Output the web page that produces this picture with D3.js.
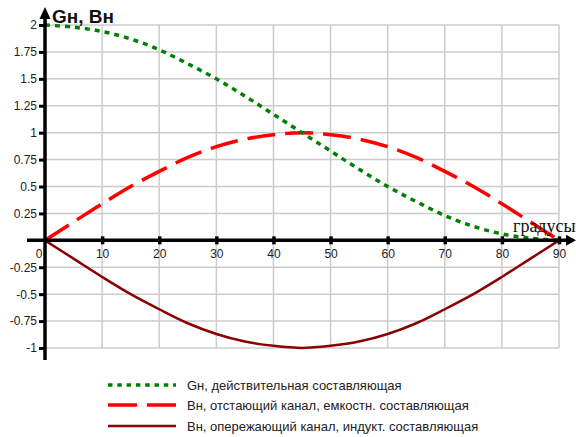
<!DOCTYPE html>
<html><head><meta charset="utf-8">
<script src="https://cdn.jsdelivr.net/npm/d3@7"></script>
<style>body{margin:0;background:#fff}svg{display:block}</style>
</head><body>
<svg id="c" width="576" height="437"></svg>
<script>
const degrees = [0,5,10,15,20,25,30,35,40,45,50,55,60,65,70,75,80,85,90];
const gActive = [2,1.98,1.94,1.87,1.77,1.64,1.5,1.34,1.17,1,0.83,0.66,0.5,0.36,0.23,0.13,0.06,0.02,0];
const bLagging = [0,0.17,0.34,0.5,0.64,0.77,0.87,0.94,0.98,1,0.98,0.94,0.87,0.77,0.64,0.5,0.34,0.17,0];
const bLeading = [0,-0.17,-0.34,-0.5,-0.64,-0.77,-0.87,-0.94,-0.98,-1,-0.98,-0.94,-0.87,-0.77,-0.64,-0.5,-0.34,-0.17,0];
const xTicks = [10,20,30,40,50,60,70,80,90];
const yTicks = [-1,-0.75,-0.5,-0.25,0.25,0.5,0.75,1,1.25,1.5,1.75,2];
const gridX = [10,20,30,40,50,60,70,80,90];
const gridY = [-1,-0.75,-0.5,-0.25,0.25,0.5,0.75,1,1.25,1.5,1.75,2];
const legendLabels = ["Gн, действительная составляющая","Вн, отстающий канал, емкостн. составляющая","Вн, опережающий канал, индукт. составляющая"];
const axisTitle = "Gн, Вн";
const xTitle = "градусы";

const svg = d3.select("#c");
const font = "Arial, 'Liberation Sans', sans-serif";
const x = d3.scaleLinear().domain([0,90]).range([45,559]);
const y = d3.scaleLinear().domain([-1,2]).range([348,25]);

// grid
const g = svg.append("g");
g.selectAll(".gx").data(gridX).enter().append("line")
  .attr("x1",d=>x(d)).attr("x2",d=>x(d)).attr("y1",y(2)).attr("y2",y(-1))
  .attr("stroke","#cccccc").attr("stroke-width",1.5);
g.selectAll(".gy").data(gridY).enter().append("line")
  .attr("x1",x(0)).attr("x2",x(90)).attr("y1",d=>y(d)).attr("y2",d=>y(d))
  .attr("stroke","#cccccc").attr("stroke-width",1.5);

// curves
const line = (vals)=>d3.line().x((d,i)=>x(degrees[i])).y(d=>y(d)).curve(d3.curveCatmullRom)(vals);
svg.append("path").attr("d",line(bLeading)).attr("fill","none").attr("stroke","#8b0000").attr("stroke-width",2.5);
svg.append("path").attr("d",line(bLagging)).attr("fill","none").attr("stroke","#ff0000").attr("stroke-width",3.5).attr("stroke-dasharray","28,10");
svg.append("path").attr("d",line(gActive)).attr("fill","none").attr("stroke","#008000").attr("stroke-width",3.5).attr("stroke-dasharray","5,5");

// axes
const axY = d3.axisLeft(y).tickValues(yTicks).tickSizeInner(6).tickSizeOuter(0).tickPadding(2).tickFormat(d=>String(d));
const gy = svg.append("g").attr("transform",`translate(${x(0)},0)`).call(axY);
gy.select(".domain").remove();
gy.selectAll(".tick line").attr("stroke","#000").attr("stroke-width",3);
gy.selectAll(".tick text").attr("font-family",font).attr("font-size",12).attr("fill","#222");

const axX = d3.axisBottom(x).tickValues(xTicks).tickSizeInner(4).tickSizeOuter(0).tickPadding(5).tickFormat(d=>String(d));
const gx = svg.append("g").attr("transform",`translate(0,${y(0)})`).call(axX);
gx.select(".domain").remove();
gx.selectAll(".tick line").attr("y1",-4).attr("y2",4).attr("stroke","#000").attr("stroke-width",3.5);
gx.selectAll(".tick text").attr("font-family",font).attr("font-size",12).attr("fill","#222");

// axis lines
svg.append("line").attr("x1",27).attr("x2",568).attr("y1",y(0)).attr("y2",y(0)).attr("stroke","#000").attr("stroke-width",3.5);
svg.append("line").attr("x1",x(0)).attr("x2",x(0)).attr("y1",y(-1)+12).attr("y2",17).attr("stroke","#000").attr("stroke-width",3.5);
svg.append("path").attr("d",`M${x(0)},7 L${x(0)-5.5},19 L${x(0)+5.5},19 Z`).attr("fill","#000");
svg.append("path").attr("d",`M576,${y(0)} L566,${y(0)-5.5} L566,${y(0)+5.5} Z`).attr("fill","#000");

svg.append("text").attr("x",39).attr("y",258).attr("text-anchor","middle").attr("font-family",font).attr("font-size",12).attr("fill","#222").text("0");
svg.append("text").attr("x",52).attr("y",23).attr("font-family",font).attr("font-weight","bold").attr("font-size",19).attr("fill","#111").text(axisTitle);
svg.append("text").attr("x",513).attr("y",232).attr("font-family","'Liberation Serif','Times New Roman',serif").attr("font-size",18).attr("fill","#111").text(xTitle);

// legend
const legY = [385,405,426];
const styles = [
  {c:"#008000",w:3.5,da:"4.5,4.8"},
  {c:"#ff0000",w:3.5,da:"29,10"},
  {c:"#8b0000",w:2.5,da:null}
];
legendLabels.forEach((t,i)=>{
  const l = svg.append("line").attr("x1",108).attr("x2",176).attr("y1",legY[i]).attr("y2",legY[i])
    .attr("stroke",styles[i].c).attr("stroke-width",styles[i].w);
  if(styles[i].da) l.attr("stroke-dasharray",styles[i].da);
  svg.append("text").attr("x",187).attr("y",legY[i]+4.5).attr("font-family",font).attr("font-size",13).attr("fill","#222").text(t);
});
</script>
</body></html>
